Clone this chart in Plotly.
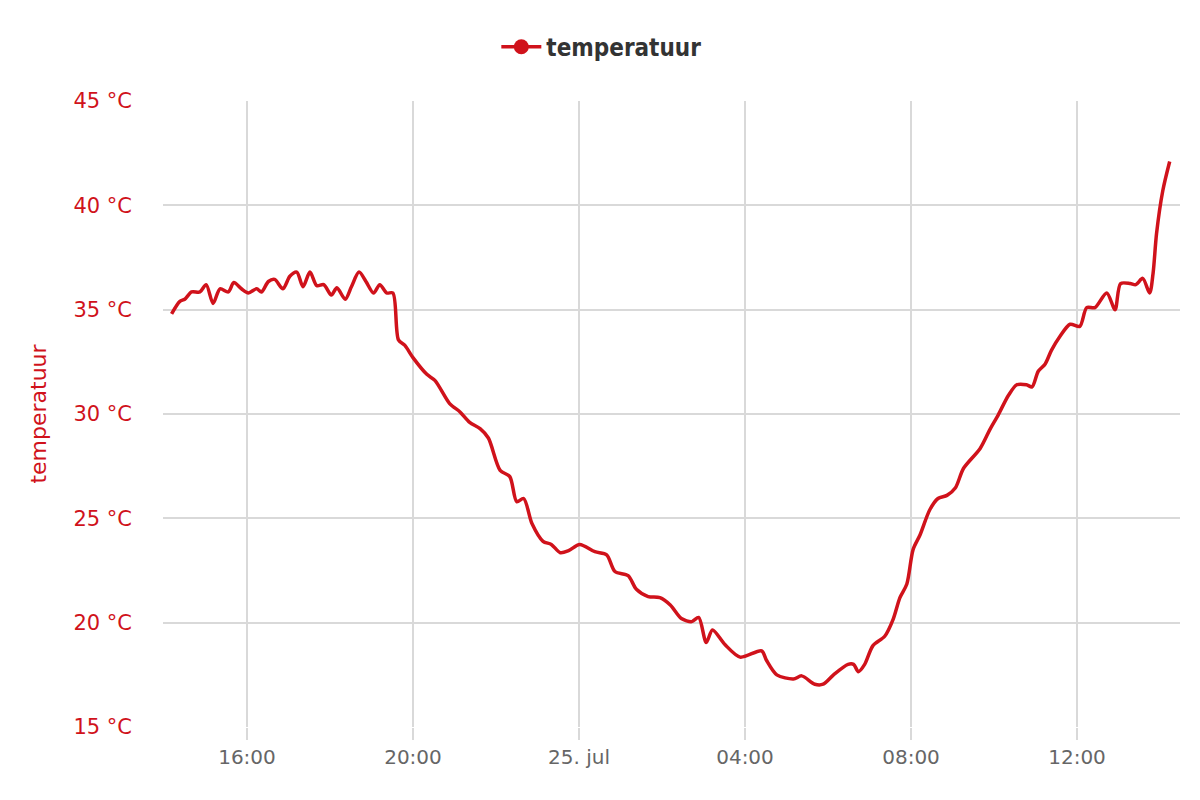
import plotly.graph_objects as go

# temperature readings, 24-25 jul
times = [
    "2019-07-24 14:11", "2019-07-24 14:23", "2019-07-24 14:30", "2019-07-24 14:40", "2019-07-24 14:52",
    "2019-07-24 15:01", "2019-07-24 15:11", "2019-07-24 15:21", "2019-07-24 15:33", "2019-07-24 15:41",
    "2019-07-24 15:52", "2019-07-24 16:02", "2019-07-24 16:14", "2019-07-24 16:21", "2019-07-24 16:31",
    "2019-07-24 16:40", "2019-07-24 16:52", "2019-07-24 17:02", "2019-07-24 17:12", "2019-07-24 17:21",
    "2019-07-24 17:31", "2019-07-24 17:41", "2019-07-24 17:51", "2019-07-24 18:02", "2019-07-24 18:10",
    "2019-07-24 18:22", "2019-07-24 18:31", "2019-07-24 18:42", "2019-07-24 18:52", "2019-07-24 19:03",
    "2019-07-24 19:12", "2019-07-24 19:22", "2019-07-24 19:31", "2019-07-24 19:39", "2019-07-24 19:48",
    "2019-07-24 20:00", "2019-07-24 20:20", "2019-07-24 20:32", "2019-07-24 20:53", "2019-07-24 21:08",
    "2019-07-24 21:22", "2019-07-24 21:37", "2019-07-24 21:49", "2019-07-24 22:06", "2019-07-24 22:20",
    "2019-07-24 22:30", "2019-07-24 22:40", "2019-07-24 22:52", "2019-07-24 23:08", "2019-07-24 23:20",
    "2019-07-24 23:33", "2019-07-24 23:45", "2019-07-25 00:01", "2019-07-25 00:23", "2019-07-25 00:40",
    "2019-07-25 00:52", "2019-07-25 01:11", "2019-07-25 01:23", "2019-07-25 01:40", "2019-07-25 01:57",
    "2019-07-25 02:12", "2019-07-25 02:28", "2019-07-25 02:43", "2019-07-25 02:53", "2019-07-25 03:04",
    "2019-07-25 03:13", "2019-07-25 03:31", "2019-07-25 03:53", "2019-07-25 04:24", "2019-07-25 04:31",
    "2019-07-25 04:46", "2019-07-25 05:10", "2019-07-25 05:22", "2019-07-25 05:41", "2019-07-25 05:53",
    "2019-07-25 06:08", "2019-07-25 06:29", "2019-07-25 06:37", "2019-07-25 06:44", "2019-07-25 06:53",
    "2019-07-25 07:05", "2019-07-25 07:22", "2019-07-25 07:34", "2019-07-25 07:44", "2019-07-25 07:54",
    "2019-07-25 08:03", "2019-07-25 08:13", "2019-07-25 08:27", "2019-07-25 08:39", "2019-07-25 08:52",
    "2019-07-25 09:04", "2019-07-25 09:16", "2019-07-25 09:40", "2019-07-25 09:54", "2019-07-25 10:06",
    "2019-07-25 10:21", "2019-07-25 10:33", "2019-07-25 10:47", "2019-07-25 10:55", "2019-07-25 11:04",
    "2019-07-25 11:14", "2019-07-25 11:23", "2019-07-25 11:35", "2019-07-25 11:50", "2019-07-25 12:04",
    "2019-07-25 12:14", "2019-07-25 12:26", "2019-07-25 12:43", "2019-07-25 12:55", "2019-07-25 13:03",
    "2019-07-25 13:17", "2019-07-25 13:25", "2019-07-25 13:35", "2019-07-25 13:45", "2019-07-25 13:50",
    "2019-07-25 13:55", "2019-07-25 14:04", "2019-07-25 14:14",
]
temps = [
    34.8, 35.4, 35.5, 35.85, 35.85,
    36.2, 35.3, 36.0, 35.85, 36.3,
    36.0, 35.8, 36.0, 35.85, 36.35,
    36.45, 36.0, 36.6, 36.8, 36.1,
    36.8, 36.15, 36.2, 35.7, 36.05,
    35.5, 36.1, 36.8, 36.35, 35.8,
    36.2, 35.8, 35.8, 33.55, 33.3,
    32.7, 31.9, 31.6, 30.5, 30.1,
    29.6, 29.3, 28.85, 27.3, 27.0,
    25.8, 25.95, 24.75, 23.9, 23.75,
    23.35, 23.45, 23.75, 23.4, 23.25,
    22.45, 22.25, 21.6, 21.25, 21.2,
    20.85, 20.2, 20.05, 20.25, 19.05,
    19.65, 18.95, 18.35, 18.65, 18.2,
    17.5, 17.3, 17.45, 17.05, 17.05,
    17.5, 18.0, 18.0, 17.65, 18.0,
    18.9, 19.35, 20.15, 21.2, 21.85,
    23.5, 24.2, 25.4, 25.95, 26.1,
    26.45, 27.4, 28.35, 29.25, 29.95,
    30.9, 31.4, 31.4, 31.3, 32.05,
    32.4, 33.05, 33.7, 34.3, 34.2,
    35.1, 35.1, 35.8, 35.0, 36.25,
    36.25, 36.2, 36.5, 35.8, 36.75,
    38.65, 40.7, 42.1,
]

x_ticks = ["2019-07-24 16:00", "2019-07-24 20:00", "2019-07-25 00:00",
           "2019-07-25 04:00", "2019-07-25 08:00", "2019-07-25 12:00"]
x_ticktext = ["16:00", "20:00", "25. jul", "04:00", "08:00", "12:00"]
x_range = ["2019-07-24 13:58:36", "2019-07-25 14:28:54"]

RED = "#d0121b"
GRID = "#d9d9d9"

fig = go.Figure()
fig.add_trace(go.Scatter(
    x=times, y=temps, mode="lines", name="temperatuur", showlegend=False,
    line=dict(color=RED, width=3.5, shape="spline", smoothing=0.8),
))
# legend entry (line + dot, like the original)
fig.add_trace(go.Scatter(
    x=[None], y=[None], mode="lines+markers", name="temperatuur",
    line=dict(color=RED, width=3.5), marker=dict(color=RED, size=15),
))

# page body adds 8px offset, margins compensate
fig.update_layout(
    width=1200, height=800,
    paper_bgcolor="white", plot_bgcolor="white",
    margin=dict(l=155, r=28, t=93, b=81),
    font=dict(family="DejaVu Sans", size=21),
    showlegend=True,
    legend=dict(orientation="h", x=0.431, xanchor="center", y=1.086, yanchor="middle",
                font=dict(family="DejaVu Sans Condensed, Liberation Sans Narrow, DejaVu Sans",
                          size=24, color="#333333", weight="bold"),
                itemwidth=40),
)
fig.update_xaxes(
    type="date", range=x_range,
    tickmode="array", tickvals=x_ticks, ticktext=x_ticktext,
    showgrid=True, gridcolor=GRID, gridwidth=1.5,
    ticks="outside", ticklen=12, tickcolor=GRID, tickwidth=1.5,
    tickfont=dict(color="#666666", size=20),
    zeroline=False, showline=False,
)
fig.update_yaxes(
    range=[15, 45], dtick=5, ticksuffix=" °C",
    showgrid=True, gridcolor=GRID, gridwidth=1.5,
    tickfont=dict(color=RED, size=21), ticklabelstandoff=30,
    title=dict(text="temperatuur", font=dict(color=RED, size=22), standoff=20),
    zeroline=False, showline=False,
)

fig.write_html("out.html")
